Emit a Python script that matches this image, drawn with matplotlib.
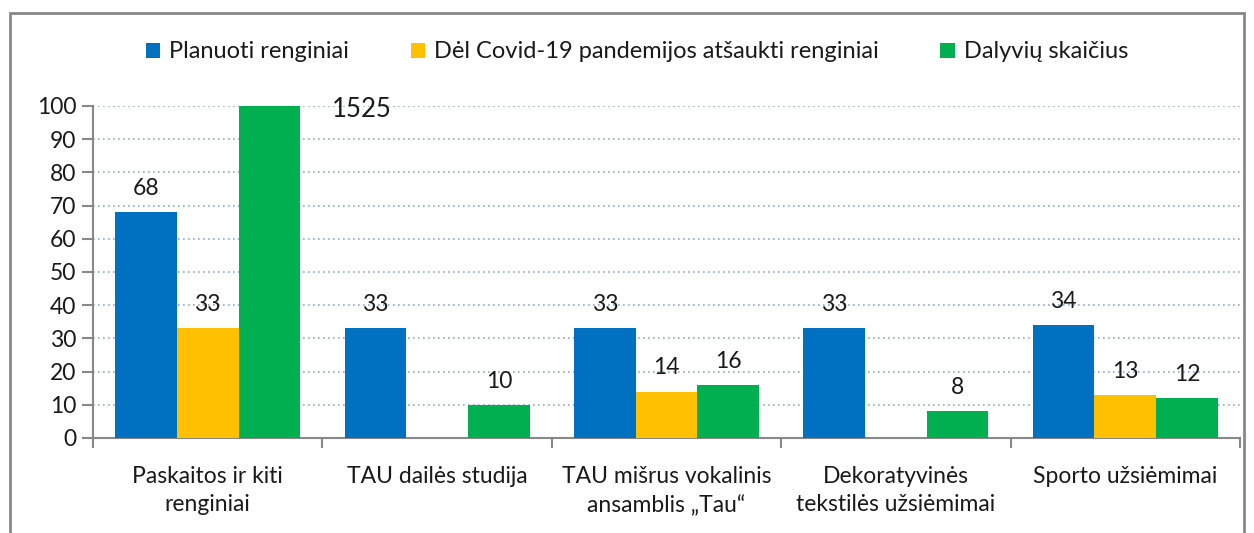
import numpy as np
import matplotlib.pyplot as plt
from matplotlib.patches import Rectangle

# Data
categories = ['Paskaitos ir kiti\nrenginiai', 'TAU dailės studija',
              'TAU mišrus vokalinis\nansamblis „Tau“', 'Dekoratyvinės\ntekstilės užsiėmimai',
              'Sporto užsiėmimai']
planned = [68, 33, 33, 33, 34]
cancelled = [33, 0, 14, 0, 13]
participants = [1525, 10, 16, 8, 12]
series_names = ['Planuoti renginiai', 'Dėl Covid-19 pandemijos atšaukti renginiai', 'Dalyvių skaičius']
colors = ['#0070C0', '#FFC000', '#00B050']
y_max = 100

plt.rcParams['font.family'] = ['Lato', 'DejaVu Sans']

fig = plt.figure(figsize=(12.54, 5.33), dpi=100)
ax = fig.add_axes([93 / 1254, 1 - 438 / 533, (1240 - 93) / 1254, (438 - 106) / 533])

x = np.arange(len(categories))
w = 0.269
series = [planned, cancelled, participants]
for i, (vals, c, name) in enumerate(zip(series, colors, series_names)):
    shown = [min(v, y_max) for v in vals]
    bars = ax.bar(x + (i - 1) * w, shown, w, color=c, label=name, zorder=3)
    for b, v in zip(bars, vals):
        if v == 0:
            continue
        if v > y_max:
            ax.text(b.get_x() + b.get_width() * 2, y_max - 1, str(v), ha='center', va='center',
                    fontsize=18.5, color='#1a1a1a')
        else:
            ax.text(b.get_x() + b.get_width() / 2, v + 4, str(v), ha='center', va='bottom',
                    fontsize=16.5, color='#1a1a1a')

ax.set_xlim(-0.5, len(categories) - 0.5)
ax.set_ylim(0, y_max)
ax.set_yticks(range(0, 101, 10))
ax.yaxis.grid(True, linestyle=(0, (1, 2)), color='#8EA9DB', linewidth=1.2, zorder=0)
ax.set_xticks(x)
ax.set_xticklabels(categories, fontsize=16.5, linespacing=1.45, color='#1a1a1a')
ax.set_xticks(np.arange(-0.5, len(categories)), minor=True)
ax.tick_params(axis='x', which='major', length=0, pad=20)
ax.tick_params(axis='x', which='minor', length=7, color='#888888', width=1.5)
ax.tick_params(axis='y', length=8, color='#888888', width=1.5, labelsize=16.5, pad=4,
               labelcolor='#1a1a1a')
for s in ['top', 'right']:
    ax.spines[s].set_visible(False)
for s in ['left', 'bottom']:
    ax.spines[s].set_color('#888888')
    ax.spines[s].set_linewidth(1.5)

fig.legend(loc='center', bbox_to_anchor=(0.508, 1 - 52 / 533), ncol=3, frameon=False,
           fontsize=17, handlelength=0.6, handleheight=0.6, handletextpad=0.4, columnspacing=2.6,
           labelcolor='#1a1a1a')

# outer chart frame
fig.patches.append(Rectangle((10 / 1254, -0.05), (1244 - 10) / 1254, 1.05 - 13 / 533,
                             transform=fig.transFigure, fill=False, edgecolor='#888888',
                             linewidth=2))

fig.savefig('out.png', dpi=100)
